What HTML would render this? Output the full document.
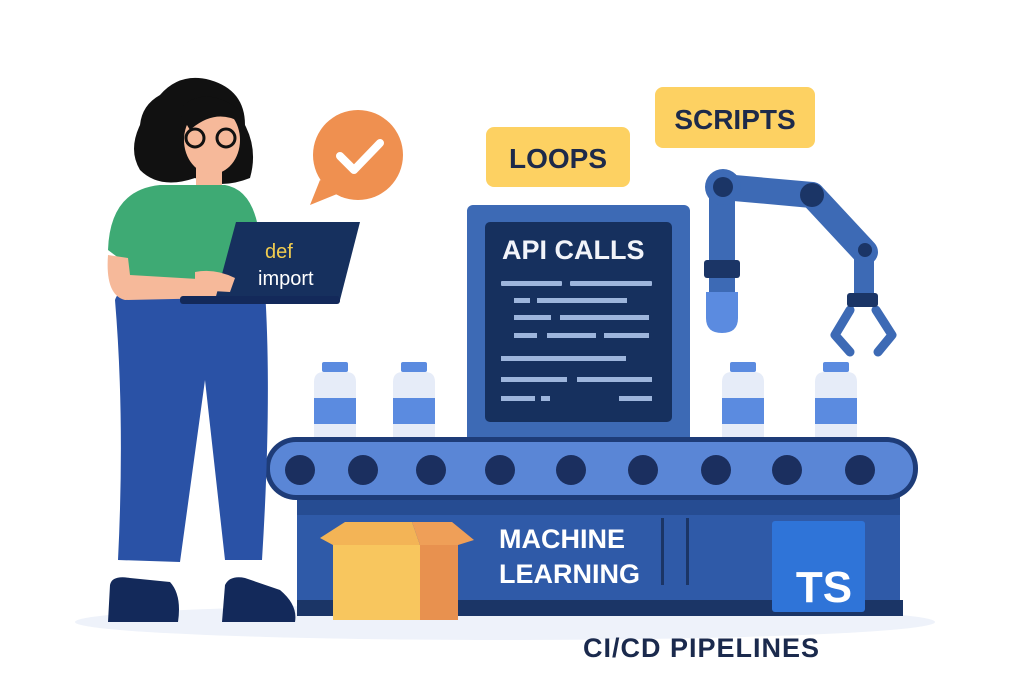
<!DOCTYPE html>
<html><head><meta charset="utf-8"><style>html,body{margin:0;padding:0;background:#fff}svg{display:block}</style></head>
<body>
<svg width="1024" height="683" viewBox="0 0 1024 683" xmlns="http://www.w3.org/2000/svg" font-family="Liberation Sans, sans-serif">
<ellipse cx="505" cy="622" rx="430" ry="18" fill="#eef2fa"/>

<!-- labels -->
<rect x="486" y="127" width="144" height="60" rx="8" fill="#fdd162"/>
<text x="558" y="168" text-anchor="middle" font-size="28" font-weight="bold" fill="#1d2a4a">LOOPS</text>
<rect x="655" y="87" width="160" height="61" rx="8" fill="#fdd162"/>
<text x="735" y="129" text-anchor="middle" font-size="28" font-weight="bold" fill="#1d2a4a">SCRIPTS</text>

<!-- robot arm -->
<g stroke-linecap="round" fill="none">
<line x1="723" y1="187" x2="812" y2="195" stroke="#3d6ab5" stroke-width="26"/>
<line x1="812" y1="195" x2="865" y2="252" stroke="#3d6ab5" stroke-width="26"/>
<line x1="722" y1="190" x2="722" y2="292" stroke="#3d6ab5" stroke-width="26" stroke-linecap="butt"/>
<line x1="864" y1="252" x2="864" y2="300" stroke="#3d6ab5" stroke-width="20" stroke-linecap="butt"/>
<path d="M850 310 L835 335 L850 352 M876 310 L892 335 L878 352" stroke="#3d6ab5" stroke-width="9" stroke-linejoin="round"/>
</g>
<circle cx="723" cy="187" r="18" fill="#3d6ab5"/><circle cx="723" cy="187" r="10" fill="#1b3566"/>
<circle cx="812" cy="195" r="12" fill="#1b3566"/>
<circle cx="865" cy="250" r="7" fill="#1b3566"/>
<rect x="704" y="260" width="36" height="18" rx="3" fill="#1b3566"/>
<path d="M706 292 H738 V318 Q738 333 722 333 Q706 333 706 318 Z" fill="#5b8be0"/>
<rect x="847" y="293" width="31" height="14" rx="3" fill="#1b3566"/>

<!-- monitor -->
<rect x="467" y="205" width="223" height="240" rx="6" fill="#3d6ab5"/>
<rect x="485" y="222" width="187" height="200" rx="5" fill="#16305e"/>
<text x="502" y="259" font-size="27" font-weight="bold" fill="#f2f4fa">API CALLS</text>
<g fill="#9db5dc">
<rect x="501" y="281" width="61" height="5" rx="1"/><rect x="570" y="281" width="82" height="5" rx="1"/>
<rect x="514" y="298" width="16" height="5"/><rect x="537" y="298" width="90" height="5"/>
<rect x="514" y="315" width="37" height="5"/><rect x="560" y="315" width="89" height="5"/>
<rect x="514" y="333" width="23" height="5"/><rect x="547" y="333" width="49" height="5"/><rect x="604" y="333" width="45" height="5"/>
<rect x="501" y="356" width="125" height="5"/>
<rect x="501" y="377" width="66" height="5"/><rect x="577" y="377" width="75" height="5"/>
<rect x="501" y="396" width="34" height="5"/><rect x="541" y="396" width="9" height="5"/><rect x="619" y="396" width="33" height="5"/>
</g>

<!-- bottles -->
<g id="b">
<rect x="322" y="362" width="26" height="10" rx="2" fill="#5b8be0"/>
<path d="M314 382 Q314 372 324 372 H346 Q356 372 356 382 V440 H314 Z" fill="#e6ecf8"/>
<rect x="314" y="398" width="42" height="26" fill="#5b8be0"/>
</g>
<use href="#b" x="79"/><use href="#b" x="408"/><use href="#b" x="501"/>

<!-- base -->
<rect x="297" y="495" width="603" height="112" fill="#2f5aa8"/>
<rect x="297" y="495" width="603" height="20" fill="#264c92"/>
<rect x="297" y="600" width="606" height="16" fill="#1b3566"/>
<text x="499" y="548" font-size="27" font-weight="bold" fill="#fff">MACHINE</text>
<text x="499" y="583" font-size="27" font-weight="bold" fill="#fff">LEARNING</text>
<rect x="661" y="518" width="3" height="67" fill="#1b3566"/><rect x="686" y="518" width="3" height="67" fill="#1b3566"/>
<rect x="772" y="521" width="93" height="91" rx="3" fill="#2f74d8"/>
<text x="824" y="602" text-anchor="middle" font-size="44" font-weight="bold" fill="#fff">TS</text>

<!-- conveyor -->
<rect x="265" y="437" width="653" height="63" rx="31" fill="#1e3c78"/>
<rect x="270" y="442" width="643" height="53" rx="26" fill="#5a86d6"/>
<g fill="#1b2f5f">
<circle cx="300" cy="470" r="15"/><circle cx="363" cy="470" r="15"/><circle cx="431" cy="470" r="15"/><circle cx="500" cy="470" r="15"/><circle cx="571" cy="470" r="15"/><circle cx="643" cy="470" r="15"/><circle cx="716" cy="470" r="15"/><circle cx="787" cy="470" r="15"/><circle cx="860" cy="470" r="15"/>
</g>

<!-- cardboard box -->
<path d="M333 545 H420 V620 H333 Z" fill="#f8c65e"/>
<path d="M420 545 H458 V620 H420 Z" fill="#e8914f"/>
<path d="M333 545 L320 538 L345 522 H412 L420 545 Z" fill="#f3b456"/>
<path d="M420 545 L412 522 H452 L474 540 L458 545 Z" fill="#ef9f58"/>

<text x="583" y="657" font-size="27" font-weight="bold" fill="#1b2a4d" letter-spacing="1">CI/CD PIPELINES</text>

<!-- woman -->
<path d="M160 95 Q180 72 210 80 Q245 90 245 125 Q258 150 250 178 Q220 190 195 178 Q160 190 140 170 Q128 150 140 125 Q142 105 160 95 Z" fill="#111"/>
<rect x="196" y="165" width="26" height="25" fill="#f6b99a"/>
<ellipse cx="212" cy="140" rx="28" ry="34" fill="#f6b99a"/>
<path d="M178 110 Q205 82 242 112 L240 122 Q215 108 190 130 Z" fill="#111"/>
<circle cx="195" cy="138" r="9" fill="none" stroke="#111" stroke-width="3"/><circle cx="226" cy="138" r="9" fill="none" stroke="#111" stroke-width="3"/>
<path d="M108 250 Q110 190 160 185 L225 185 Q255 190 260 240 L258 290 H130 L128 265 Z" fill="#3eaa74"/>
<path d="M115 300 Q118 290 130 290 L265 290 Q272 400 262 560 L225 560 L205 380 L180 562 L118 560 Q125 420 115 300 Z" fill="#2a52a6"/>
<path d="M108 255 L128 258 L130 275 L215 280 L220 298 L125 300 Q105 295 108 255 Z" fill="#f6b99a"/>
<path d="M110 585 Q112 575 130 578 L170 582 Q182 595 178 622 H108 Z" fill="#13295a"/>
<path d="M225 585 Q230 575 245 578 L280 590 Q298 605 295 622 H222 Z" fill="#13295a"/>
<path d="M236 222 H360 L340 300 H215 Z" fill="#16305e"/>
<rect x="180" y="296" width="160" height="8" rx="3" fill="#13295a"/>
<text x="265" y="258" font-size="20" fill="#f1cc4f">def</text>
<text x="258" y="285" font-size="20" fill="#fff">import</text>
<path d="M195 272 Q215 268 235 278 L230 292 L195 290 Z" fill="#f6b99a"/>

<!-- bubble -->
<circle cx="358" cy="155" r="45" fill="#ef9050"/>
<path d="M320 180 L310 205 L342 192 Z" fill="#ef9050"/>
<path d="M340 156 L354 170 L380 143" fill="none" stroke="#fff" stroke-width="8" stroke-linecap="round" stroke-linejoin="round"/>
</svg>
</body></html>
